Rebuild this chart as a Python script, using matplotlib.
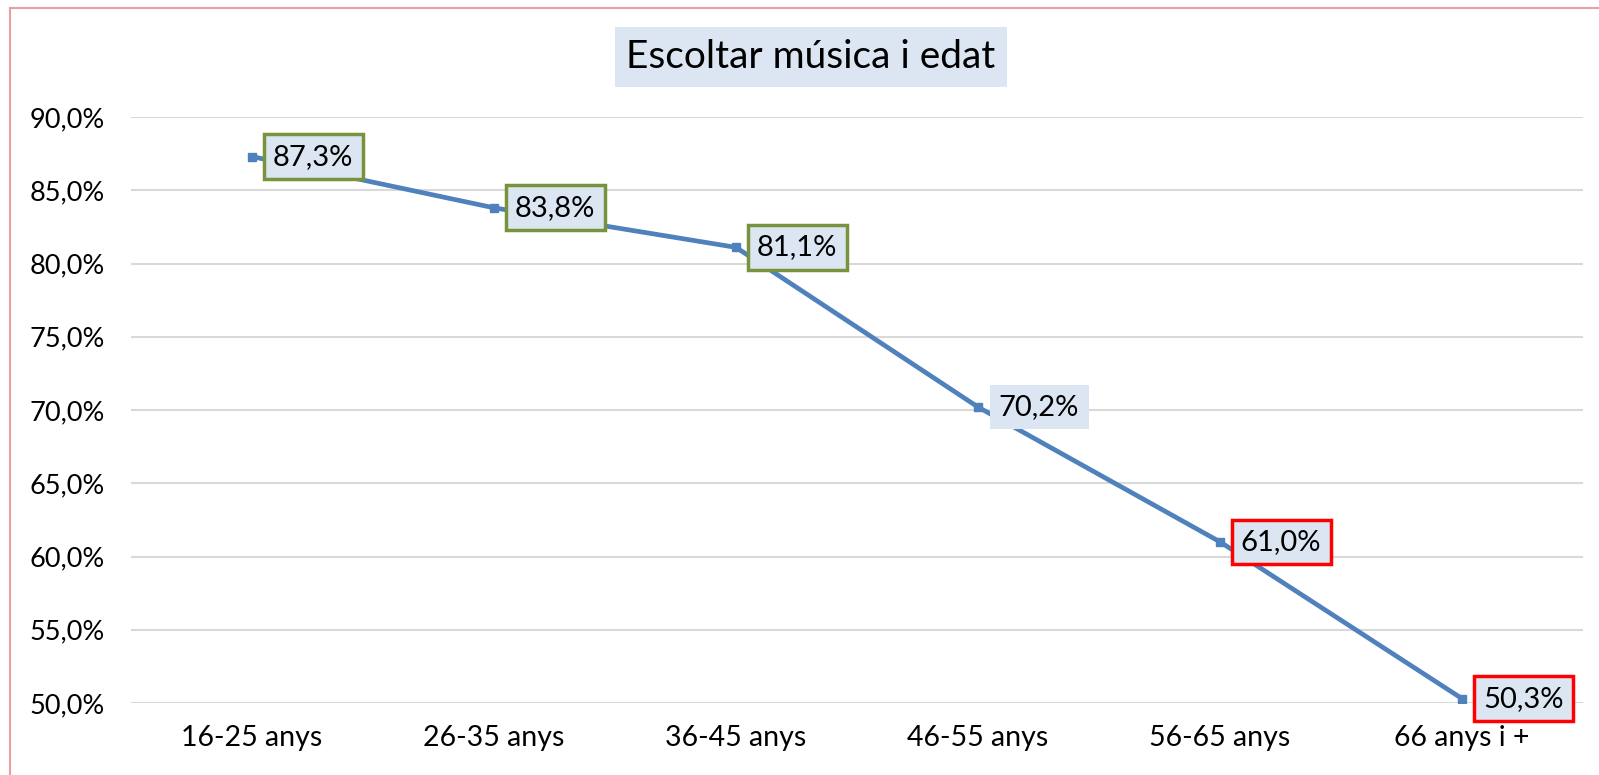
import matplotlib
matplotlib.use("Agg")
import matplotlib.pyplot as plt
from matplotlib.lines import Line2D

# data
categories = ["16-25 anys", "26-35 anys", "36-45 anys", "46-55 anys", "56-65 anys", "66 anys i +"]
values = [87.3, 83.8, 81.1, 70.2, 61.0, 50.3]
label_edges = ["#77933C", "#77933C", "#77933C", None, "#FF0000", "#FF0000"]
yticks = [50, 55, 60, 65, 70, 75, 80, 85, 90]

plt.rcParams['font.family'] = ['Lato', 'DejaVu Sans']

fig = plt.figure(figsize=(15.99, 7.75), dpi=100)
W, H = 1599, 775
ax = fig.add_axes([131 / W, 1 - 703 / H, (1583 - 131) / W, (703 - 117) / H])

x = list(range(len(categories)))
ax.plot(x, values, color="#4F81BD", linewidth=3.4, marker="s", markersize=6, zorder=3)

ax.set_xlim(-0.5, len(categories) - 0.5)
ax.set_ylim(50, 90)
ax.set_yticks(yticks)
ax.set_yticklabels([("%.1f%%" % v).replace(".", ",") for v in yticks])
ax.set_xticks(x)
ax.set_xticklabels(categories)
ax.tick_params(axis="both", length=0, colors="black")
ax.tick_params(axis="y", pad=19, labelsize=19.5)
ax.tick_params(axis="x", pad=16, labelsize=20.5)
ax.grid(axis="y", color="#D9D9D9", linewidth=1.5)
ax.set_axisbelow(True)
for s in ax.spines.values():
    s.set_visible(False)

# data labels
for xi, v, ec in zip(x, values, label_edges):
    txt = ("%.1f%%" % v).replace(".", ",")
    bb = dict(boxstyle="square,pad=0.32", facecolor="#DCE6F2",
              edgecolor=ec if ec else "#DCE6F2", linewidth=2.5 if ec else 0)
    ax.annotate(txt, (xi, v), xytext=(15, 0), textcoords="offset points",
                ha="left", va="center", fontsize=21, color="black",
                bbox=bb, zorder=4, annotation_clip=False)

# title
fig.text(811 / W, 1 - 57 / H, "Escoltar música i edat", ha="center", va="center",
         fontsize=28, color="black",
         bbox=dict(boxstyle="square,pad=0.3", facecolor="#DCE6F2", edgecolor="none"))

# chart border (left and top visible)
fig.add_artist(Line2D([10 / W, 10 / W], [0, 1 - 8 / H], color="#E6A0A0", linewidth=1.5))
fig.add_artist(Line2D([10 / W, 1], [1 - 8 / H, 1 - 8 / H], color="#E6A0A0", linewidth=1.5))

fig.savefig("out.png", dpi=100)
